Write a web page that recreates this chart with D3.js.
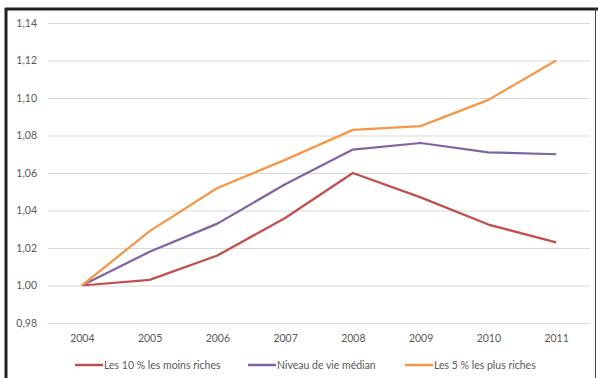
<!DOCTYPE html>
<html>
<head>
<meta charset="utf-8">
<script src="https://cdnjs.cloudflare.com/ajax/libs/d3/7.8.5/d3.min.js"></script>
<style>
  body { margin: 0; background: #fff; }
  text { font-family: Lato, "Liberation Sans", sans-serif; fill: #595959; }
</style>
</head>
<body>
<script>
var width = 598,
    height = 378;

// data
var years = ["2004", "2005", "2006", "2007", "2008", "2009", "2010", "2011"];
var poorest10 = [1.000, 1.003, 1.016, 1.036, 1.060, 1.047, 1.0325, 1.023];
var median = [1.000, 1.018, 1.033, 1.054, 1.0725, 1.076, 1.071, 1.070];
var richest5 = [1.000, 1.029, 1.052, 1.067, 1.083, 1.085, 1.099, 1.120];
var yTicks = [0.98, 1.00, 1.02, 1.04, 1.06, 1.08, 1.10, 1.12, 1.14];

var series = [
    {name: "Les 10 % les moins riches", values: poorest10, color: "#C0504D"},
    {name: "Niveau de vie médian", values: median, color: "#8064A2"},
    {name: "Les 5 % les plus riches", values: richest5, color: "#F79646"}
];

var svg = d3.select("body")
    .append("svg")
    .attr("width", width)
    .attr("height", height);

// frame of the screenshot
svg.append("line").attr("x1", 6).attr("x2", 6).attr("y1", 8).attr("y2", height)
    .attr("stroke", "#222").attr("stroke-width", 3);
svg.append("line").attr("x1", 5).attr("x2", width).attr("y1", 9).attr("y2", 9)
    .attr("stroke", "#222").attr("stroke-width", 3);
svg.append("line").attr("x1", 595.5).attr("x2", 595.5).attr("y1", 8).attr("y2", height)
    .attr("stroke", "#444").attr("stroke-width", 1);

var x = d3.scalePoint()
    .domain(years)
    .range([48, 590])
    .padding(0.5);

var y = d3.scaleLinear()
    .domain([0.98, 1.14])
    .range([323, 23]);

var fmt = function(d) { return d3.format(".2f")(d).replace(".", ","); };

// gridlines + y labels
var yAxis = svg.append("g")
    .attr("transform", "translate(48,0)")
    .call(d3.axisLeft(y).tickValues(yTicks).tickFormat(fmt).tickSize(0).tickPadding(11));
yAxis.select(".domain").remove();
yAxis.selectAll("text").style("font-size", "10.5px").attr("fill", "#595959");
yAxis.selectAll(".tick")
    .append("line")
    .attr("x1", 0)
    .attr("x2", 542)
    .attr("stroke", "#D9D9D9")
    .attr("stroke-width", 1);

// x labels
var xAxis = svg.append("g")
    .attr("transform", "translate(0,323)")
    .call(d3.axisBottom(x).tickSize(0).tickPadding(12));
xAxis.select(".domain").remove();
xAxis.selectAll("text").style("font-size", "10.5px").attr("fill", "#595959");

var line = d3.line()
    .x(function(d, i) { return x(years[i]); })
    .y(function(d) { return y(d); });

svg.selectAll(".series")
    .data(series)
    .enter()
    .append("path")
    .attr("class", "series")
    .attr("d", function(d) { return line(d.values); })
    .attr("fill", "none")
    .attr("stroke", function(d) { return d.color; })
    .attr("stroke-width", 2.25)
    .attr("stroke-linejoin", "round");

// legend
var legendX = [75, 248, 405];
var legend = svg.selectAll(".legend")
    .data(series)
    .enter()
    .append("g")
    .attr("class", "legend")
    .attr("transform", function(d, i) { return "translate(" + legendX[i] + ",365)"; });
legend.append("line")
    .attr("x1", 0).attr("x2", 28)
    .attr("stroke", function(d) { return d.color; })
    .attr("stroke-width", 2.5);
legend.append("text")
    .attr("x", 29)
    .attr("dy", "0.35em")
    .style("font-size", "10.5px")
    .text(function(d) { return d.name; });
</script>
</body>
</html>
